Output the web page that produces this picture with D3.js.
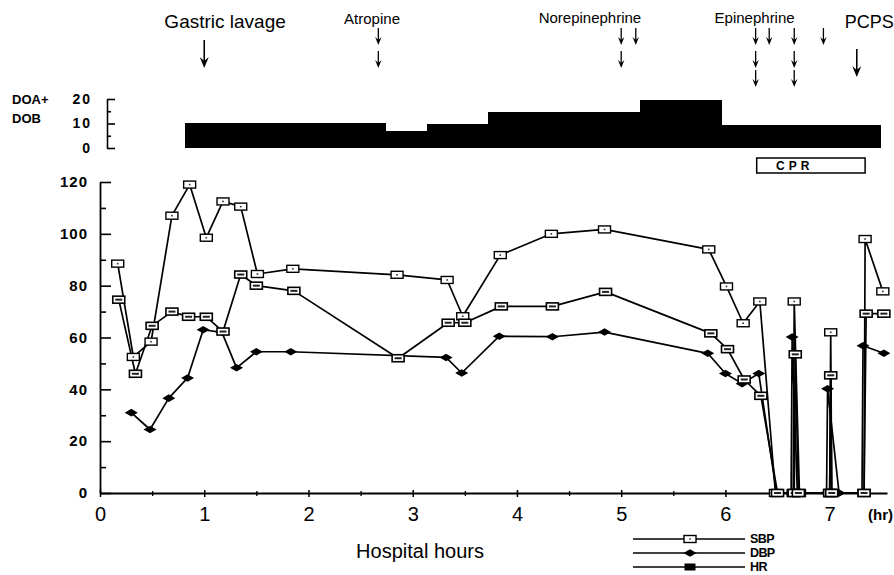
<!DOCTYPE html>
<html>
<head>
<meta charset="utf-8">
<script src="https://cdn.jsdelivr.net/npm/d3@7"></script>
<style>
  body { margin: 0; background: #fff; }
  text { font-family: "Liberation Sans", Arial, sans-serif; fill: #000; }
</style>
</head>
<body>
<div id="chart"></div>
<script>
// ---- data (time in hours) ----
const sbpTime = [0.17, 0.32, 0.49, 0.69, 0.86, 1.02, 1.18, 1.35, 1.51, 1.85, 2.85, 3.33, 3.48, 3.84, 4.33, 4.84, 5.84, 6.01, 6.17, 6.33, 6.48, 6.65, 6.66, 6.71, 7.0, 7.01, 7.02, 7.33, 7.34, 7.51];
const sbpValue = [88.5, 52.5, 58.4, 107, 119, 98.5, 112.5, 110.5, 84.5, 86.5, 84.2, 82.2, 68.2, 91.8, 100, 101.7, 94, 79.7, 65.5, 73.9, 0, 0, 73.9, 0, 0, 62, 0, 0, 98, 77.8];

const dbpTime = [0.3, 0.48, 0.66, 0.84, 0.99, 1.17, 1.31, 1.5, 1.83, 3.32, 3.47, 3.83, 4.34, 4.84, 5.83, 6.0, 6.16, 6.32, 6.49, 6.63, 6.64, 6.69, 6.97, 6.98, 7.09, 7.31, 7.32, 7.52];
const dbpValue = [31, 24.5, 36.6, 44.4, 63, 62, 48.3, 54.5, 54.5, 52.3, 46.3, 60.5, 60.3, 62.1, 53.9, 46.1, 42.2, 46.1, 0, 0, 60.2, 0, 0, 40.2, 0, 0, 56.8, 53.9];

const hrTime = [0.18, 0.34, 0.5, 0.69, 0.85, 1.02, 1.18, 1.35, 1.5, 1.86, 2.86, 3.34, 3.5, 3.85, 4.34, 4.85, 5.86, 6.02, 6.18, 6.34, 6.5, 6.66, 6.67, 6.7, 7.0, 7.01, 7.02, 7.33, 7.35, 7.52];
const hrValue = [74.6, 46, 64.5, 70, 68, 68, 62.3, 84.3, 80, 78, 52, 65.7, 65.7, 72, 72, 77.6, 61.6, 55.5, 43.8, 37.5, 0, 0, 53.5, 0, 0, 45.4, 0, 0, 69.2, 69.2];

// DOA + DOB dose (step blocks)
const doseStart = [0.815, 2.74, 3.14, 3.72, 5.18, 5.96];
const doseEnd   = [2.74, 3.14, 3.72, 5.18, 5.96, 7.49];
const doseValue = [10.3, 7, 9.7, 14.7, 19.5, 9.3];

// interventions
const eventNames = ["Gastric lavage", "Atropine", "Norepinephrine", "Epinephrine", "PCPS"];
const arrowTime  = [1.0, 2.67, 5.0, 5.14, 6.29, 6.42, 6.66, 6.94, 7.26];
const arrowCount = [1, 2, 2, 1, 3, 1, 3, 1, 1];
const arrowEvent = [0, 1, 2, 2, 3, 3, 3, 3, 4];

const cprStart = 6.3, cprEnd = 7.34;

const yTicks = [0, 20, 40, 60, 80, 100, 120];
const xTicks = [0, 1, 2, 3, 4, 5, 6, 7];
const doseTicks = [0, 10, 20];

// ---- layout ----
const svg = d3.select("#chart").append("svg")
    .attr("width", 894)
    .attr("height", 575);

const x = d3.scaleLinear().domain([0, 7.55]).range([100, 887]);
const y = d3.scaleLinear().domain([0, 120]).range([493, 182]);
const yDose = d3.scaleLinear().domain([0, 20]).range([148, 99]);

// event label placement (hours) and style
const labelAt   = [1.2, 2.61, 4.7, 6.28, 7.38];
const labelSize = [19, 15, 15, 15, 18];
const labelBase = [28, 24, 23, 23, 28];
const bigArrow  = [true, false, false, false, true];

// ---- event labels + arrows ----
svg.append("g").selectAll("text")
  .data(eventNames)
  .join("text")
    .attr("x", (d, i) => x(labelAt[i]))
    .attr("y", (d, i) => labelBase[i])
    .attr("text-anchor", "middle")
    .style("font-size", (d, i) => labelSize[i] + "px")
    .text(d => d);

const rowTop = [28, 51, 70];
const arrows = svg.append("g");
arrowTime.forEach(function(t, i) {
  const ax = x(t);
  if (bigArrow[arrowEvent[i]]) {
    const y1 = arrowEvent[i] === 0 ? 40 : 49, y2 = y1 + 28;
    arrows.append("line").attr("x1", ax).attr("x2", ax).attr("y1", y1).attr("y2", y2 - 6)
      .attr("stroke", "#000").attr("stroke-width", 1.6);
    arrows.append("path")
      .attr("d", `M${ax - 4.5},${y2 - 11} L${ax},${y2} L${ax + 4.5},${y2 - 11} L${ax},${y2 - 7} Z`)
      .attr("fill", "#000");
  } else {
    for (let r = 0; r < arrowCount[i]; r++) {
      const y1 = rowTop[r], y2 = y1 + 17;
      arrows.append("line").attr("x1", ax).attr("x2", ax).attr("y1", y1).attr("y2", y2 - 4)
        .attr("stroke", "#000").attr("stroke-width", 1.3);
      arrows.append("path")
        .attr("d", `M${ax - 3.2},${y2 - 8} L${ax},${y2} L${ax + 3.2},${y2 - 8} L${ax},${y2 - 5} Z`)
        .attr("fill", "#000");
    }
  }
});

// ---- dose panel ----
svg.append("text").attr("x", 12).attr("y", 104)
  .style("font-size", "13px").style("font-weight", "bold").text("DOA+");
svg.append("text").attr("x", 12).attr("y", 123)
  .style("font-size", "13px").style("font-weight", "bold").text("DOB");

const doseAxis = svg.append("g")
  .attr("transform", "translate(107,0)")
  .call(d3.axisLeft(yDose).tickValues(doseTicks).tickSize(-8).tickSizeOuter(0).tickPadding(15));
doseAxis.selectAll("text")
  .style("font-size", "14px").style("font-weight", "bold")
  .style("letter-spacing", "2px")
  .style("font-family", "'Liberation Sans', Arial, sans-serif");
doseAxis.select(".domain").attr("stroke-width", 1.6);
doseAxis.selectAll(".tick line").attr("stroke-width", 1.6);
svg.append("g")
  .attr("transform", "translate(107,0)")
  .call(d3.axisLeft(yDose).tickValues([5, 15]).tickSize(-4).tickFormat(""))
  .call(g => g.select(".domain").remove())
  .selectAll("line").attr("stroke-width", 1.6);

svg.append("g").selectAll("rect")
  .data(doseValue)
  .join("rect")
    .attr("x", (d, i) => x(doseStart[i]))
    .attr("width", (d, i) => x(doseEnd[i]) - x(doseStart[i]) + 0.5)
    .attr("y", d => yDose(d))
    .attr("height", d => yDose(0) - yDose(d))
    .attr("fill", "#000")
    .attr("shape-rendering", "crispEdges");

// CPR box
svg.append("rect")
  .attr("x", x(cprStart)).attr("y", 158)
  .attr("width", x(cprEnd) - x(cprStart)).attr("height", 15)
  .attr("fill", "none").attr("stroke", "#000").attr("stroke-width", 1.5);
svg.append("text")
  .attr("x", x(cprStart) + 38).attr("y", 170)
  .attr("text-anchor", "middle")
  .style("font-size", "12px").style("font-weight", "bold").style("letter-spacing", "4px")
  .text("CPR");

// ---- main axes ----
const yAxis = svg.append("g")
  .attr("transform", `translate(${x(0)},0)`)
  .call(d3.axisLeft(y).tickValues(yTicks).tickSize(-11).tickSizeOuter(0).tickPadding(12));
yAxis.selectAll("text")
  .style("font-size", "15px").style("font-weight", "bold").style("letter-spacing", "1px")
  .style("font-family", "'Liberation Sans', Arial, sans-serif");
yAxis.select(".domain").attr("stroke-width", 1.8);
yAxis.selectAll(".tick line").attr("stroke-width", 1.6);
svg.append("g")
  .attr("transform", `translate(${x(0)},0)`)
  .call(d3.axisLeft(y).tickValues([10, 30, 50, 70, 90, 110]).tickSize(-6).tickFormat(""))
  .call(g => g.select(".domain").remove())
  .selectAll("line").attr("stroke-width", 1.6);

const xAxis = svg.append("g")
  .attr("transform", `translate(0,${y(0)})`)
  .call(d3.axisBottom(x).tickValues(xTicks).tickSize(4).tickSizeOuter(0).tickPadding(10)
    .tickFormat(d3.format("d")));
xAxis.selectAll("text")
  .style("font-size", "20px")
  .style("font-family", "'Liberation Sans', Arial, sans-serif");
xAxis.select(".domain").attr("stroke-width", 1.8);
xAxis.selectAll(".tick line").attr("y1", -3).attr("y2", 4).attr("stroke-width", 1.5);
svg.append("g")
  .attr("transform", `translate(0,${y(0)})`)
  .call(d3.axisBottom(x).tickValues(d3.range(0.5, 7.5, 1)).tickSize(3).tickFormat(""))
  .call(g => g.select(".domain").remove())
  .selectAll("line").attr("y1", -2).attr("stroke-width", 1.3);

svg.append("text").attr("x", 868).attr("y", 520)
  .style("font-size", "15px").style("font-weight", "bold").text("(hr)");
svg.append("text").attr("x", 420).attr("y", 558)
  .attr("text-anchor", "middle")
  .style("font-size", "20px").text("Hospital hours");

// ---- series ----
const series = [
  {name: "SBP", t: sbpTime, v: sbpValue},
  {name: "DBP", t: dbpTime, v: dbpValue},
  {name: "HR",  t: hrTime,  v: hrValue}
];

const line = d3.line()
  .x(d => x(d[0]))
  .y(d => y(d[1]));

series.forEach(function(s) {
  const pts = s.t.map((t, i) => [t, s.v[i]]);
  svg.append("path")
    .datum(pts)
    .attr("d", line)
    .attr("fill", "none")
    .attr("stroke", "#000")
    .attr("stroke-width", 1.7)
    .attr("stroke-linejoin", "round");
});

function drawMarker(g, name) {
  if (name === "SBP") {
    g.append("rect").attr("x", -6).attr("y", -3.5).attr("width", 12).attr("height", 7)
      .attr("fill", "#fff").attr("stroke", "#000").attr("stroke-width", 1.4);
    g.append("rect").attr("x", -0.8).attr("y", -0.8).attr("width", 1.6).attr("height", 1.6)
      .attr("fill", "#333");
  } else if (name === "DBP") {
    g.append("path").attr("d", "M-6.5,0 L0,-3.8 L6.5,0 L0,3.8 Z").attr("fill", "#000");
  } else {
    g.append("rect").attr("x", -6).attr("y", -3.5).attr("width", 12).attr("height", 7)
      .attr("fill", "#fff").attr("stroke", "#000").attr("stroke-width", 1.6);
    g.append("rect").attr("x", -3.5).attr("y", -1).attr("width", 7).attr("height", 2)
      .attr("fill", "#222");
  }
}

series.forEach(function(s) {
  const pts = s.t.map((t, i) => [t, s.v[i]]);
  svg.append("g").selectAll("g")
    .data(pts)
    .join("g")
      .attr("transform", d => `translate(${x(d[0])},${y(d[1])})`)
      .each(function() { drawMarker(d3.select(this), s.name); });
});

// ---- legend ----
const legendY = [539, 553, 567];
series.forEach(function(s, i) {
  const g = svg.append("g").attr("transform", `translate(0,${legendY[i]})`);
  g.append("line").attr("x1", 633).attr("x2", 745).attr("y1", 0).attr("y2", 0)
    .attr("stroke", "#000").attr("stroke-width", 1.3);
  const m = g.append("g").attr("transform", "translate(690,0)");
  if (s.name === "HR") {
    m.append("rect").attr("x", -5.5).attr("y", -3.5).attr("width", 11).attr("height", 7).attr("fill", "#000");
  } else {
    drawMarker(m, s.name);
  }
  g.append("text").attr("x", 750).attr("y", 0).attr("dy", "0.35em")
    .style("font-size", "12.5px").style("font-weight", "bold").style("letter-spacing", "-0.6px")
    .text(s.name);
});
</script>
</body>
</html>
